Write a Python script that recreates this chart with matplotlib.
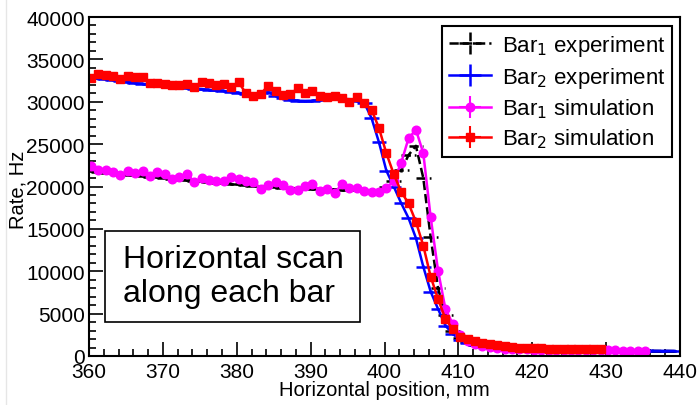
import matplotlib
matplotlib.use("Agg")
import matplotlib.pyplot as plt
import numpy as np
from matplotlib.patches import Rectangle
from matplotlib.ticker import MultipleLocator

plt.rcParams['font.family'] = ['Liberation Sans', 'DejaVu Sans']

# positions, mm
x_bar1_exp = np.arange(360.25, 440.0, 1.0)
x_bar2_exp = np.arange(360.25, 440.0, 1.0)
x_bar1_sim = np.arange(360.25, 436.0, 1.0)
x_bar2_sim = np.arange(360.25, 430.0, 1.0)

# rates, Hz
bar1_exp = [21850, 21750, 21650, 21550, 21450, 21400, 21300, 21250, 21150, 21100,
            21000, 20900, 20800, 20750, 20650, 20600, 20500, 20450, 20400, 20300,
            20250, 20150, 20100, 20050, 20000, 19900, 19850, 19800, 19800, 19750,
            19700, 19700, 19650, 19650, 19600, 19600, 19550, 19550, 19500, 19600,
            19900, 20700, 21900, 23700, 24800, 21000, 14000, 8000, 4800, 3000,
            2100, 1600, 1300, 1100, 980, 900, 840, 800, 770, 740,
            720, 710, 700, 690, 680, 670, 660, 650, 640, 630,
            630, 620, 620, 610, 610, 600, 600, 590, 590, 580]
bar2_exp = [32800, 32750, 32650, 32550, 32450, 32300, 32200, 32100, 32050, 31950,
            31850, 31800, 31700, 31600, 31550, 31500, 31400, 31350, 31250, 31150,
            31050, 30950, 30900, 31000, 31100, 30700, 30400, 30250, 30120, 30100,
            30120, 30200, 30350, 30400, 30350, 30300, 30100, 29900, 28050, 25220,
            21870, 20000, 18050, 16280, 13920, 10540, 7590, 5550, 3580, 2600,
            1900, 1500, 1250, 1100, 1000, 920, 860, 820, 790, 760,
            740, 730, 720, 710, 700, 690, 680, 670, 660, 650,
            650, 640, 640, 630, 630, 620, 620, 610, 610, 600]
bar1_sim = [22380, 21980, 21980, 21670, 21360, 21870, 21590, 21790, 21280, 21750,
            21470, 20890, 21080, 21470, 20570, 20970, 20800, 20690, 20690, 21080,
            20890, 20610, 20580, 19700, 20180, 20570, 20180, 19620, 19620, 20020,
            20300, 19500, 19700, 19230, 20300, 19800, 19820, 19500, 19300, 19390,
            19820, 20680, 22770, 25680, 26700, 23950, 16370, 10070, 5550, 3780,
            2500, 1800, 1450, 1200, 1050, 950, 880, 830, 800, 770,
            750, 740, 730, 720, 710, 700, 690, 680, 670, 660,
            650, 650, 640, 640, 630, 630]
bar2_sim = [32770, 33270, 33190, 33080, 32690, 33000, 32880, 32880, 32210, 32210,
            32090, 31980, 31980, 32090, 31700, 32370, 32210, 31980, 32090, 31700,
            32290, 31000, 30630, 30910, 31900, 31230, 30800, 30910, 31580, 31000,
            31300, 30630, 30520, 30710, 30400, 30010, 30520, 29850, 29060, 26900,
            23920, 21470, 19390, 18010, 15850, 13020, 9360, 6730, 4370, 3190,
            2300, 2000, 1750, 1550, 1400, 1250, 1150, 1050, 1000, 950,
            920, 900, 880, 870, 860, 850, 840, 830, 820, 810]

labels = [r'Bar$_1$ experiment', r'Bar$_2$ experiment',
          r'Bar$_1$ simulation', r'Bar$_2$ simulation']

fig = plt.figure(figsize=(7.0, 4.06), dpi=100)
ax = fig.add_axes([89/700, 1 - 357/406, 591/700, 339/406])

e1 = ax.errorbar(x_bar1_exp, bar1_exp, xerr=1.0, yerr=150, color='black',
                 ls='--', lw=1.8, capsize=0, elinewidth=1.8, label=labels[0])
e1[2][0].set_linestyle('--')
e1[2][1].set_linestyle('--')
ax.errorbar(x_bar2_exp, bar2_exp, xerr=1.0, yerr=150, color='#0000ff',
            ls='-', lw=1.8, capsize=0, elinewidth=1.8, label=labels[1])
ax.errorbar(x_bar1_sim, bar1_sim, xerr=0.5, yerr=300, color='#ff00ff',
            ls='-', lw=1.8, marker='o', ms=6.2, capsize=0, elinewidth=1.5,
            label=labels[2])
ax.errorbar(x_bar2_sim, bar2_sim, xerr=0.5, yerr=300, color='#ff0000',
            ls='-', lw=1.8, marker='s', ms=5.8, capsize=0, elinewidth=1.5,
            label=labels[3])

ax.set_xlim(360, 440)
ax.set_ylim(0, 40000)
ax.xaxis.set_major_locator(MultipleLocator(10))
ax.xaxis.set_minor_locator(MultipleLocator(2))
ax.yaxis.set_major_locator(MultipleLocator(5000))
ax.yaxis.set_minor_locator(MultipleLocator(1000))
ax.tick_params(which='both', direction='in', labelsize=15, width=1.2)
ax.tick_params(which='major', length=10)
ax.tick_params(which='minor', length=5)
ax.tick_params(axis='x', pad=4)
ax.tick_params(axis='y', pad=3)
for s in ax.spines.values():
    s.set_linewidth(1.5)

leg = ax.legend(loc='upper right', bbox_to_anchor=(0.987, 0.972),
                borderaxespad=0, fontsize=16, handlelength=1.9,
                labelspacing=0.3, fancybox=False, edgecolor='black',
                framealpha=1, borderpad=0.3, handletextpad=0.5)
leg.get_frame().set_linewidth(1.5)

ax.add_patch(Rectangle((16/591, 34/339), 255/591, 91/339, transform=ax.transAxes,
                       facecolor='white', edgecolor='black', lw=1.2, zorder=5))
ax.text(34/591, 80/339, 'Horizontal scan\nalong each bar', transform=ax.transAxes,
        fontsize=23, ha='left', va='center', linespacing=1.15, zorder=6)

fig.text(384.5/700, 1 - 391/406, 'Horizontal position, mm', ha='center',
         va='center', fontsize=14.5)
fig.text(18/700, 1 - 189.5/406, 'Rate, Hz', rotation=90, ha='center',
         va='center', fontsize=14.5)

fig.add_artist(plt.Line2D([6/700, 6/700], [0, 1], color='#e6e6e6', lw=1))

fig.savefig('out.png', dpi=100)
